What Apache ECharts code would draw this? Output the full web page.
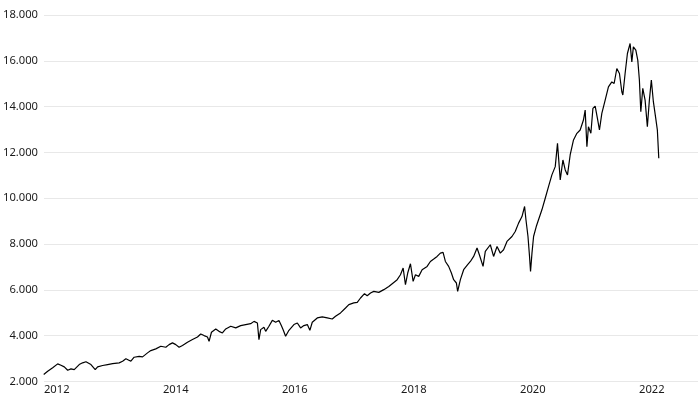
<!DOCTYPE html>
<html>
<head>
<meta charset="utf-8">
<script src="https://cdn.jsdelivr.net/npm/echarts@6/dist/echarts.min.js"></script>
<style>html,body{margin:0;padding:0;background:#fff}#c{width:700px;height:400px}</style>
</head>
<body>
<div id="c"></div>
<script>
// decimal years (as placed on the chart's axis)
const years = [
2011.781,2011.848,2011.932,2012.016,2012.071,2012.127,2012.184,2012.239,2012.294,2012.378,
2012.435,2012.491,2012.575,2012.647,2012.687,2012.771,2012.855,2012.939,2013.049,2013.107,
2013.162,2013.246,2013.301,2013.385,2013.442,2013.526,
2013.581,2013.665,2013.749,2013.833,2013.888,2013.945,2014.001,2014.056,2014.113,2014.197,
2014.281,2014.365,2014.420,2014.476,2014.533,2014.560,2014.600,2014.672,2014.727,2014.784,
2014.840,2014.924,2015.008,2015.091,2015.175,2015.259,2015.315,2015.372,2015.398,
2015.427,2015.482,2015.511,2015.566,2015.623,2015.679,2015.734,2015.774,2015.808,2015.846,
2015.902,2015.986,2016.043,2016.098,2016.153,2016.211,2016.254,2016.294,2016.378,2016.462,
2016.546,2016.630,2016.685,2016.769,2016.853,2016.909,2016.992,2017.050,2017.105,2017.172,2017.217,
2017.273,2017.328,2017.412,2017.496,2017.580,2017.664,2017.721,2017.776,2017.821,2017.860,
2017.898,2017.944,2017.989,2018.028,2018.083,2018.140,2018.224,2018.279,2018.335,2018.392,
2018.447,2018.492,2018.531,2018.586,2018.632,2018.670,2018.716,2018.737,2018.783,2018.838,
2018.905,2018.951,2019.006,2019.063,2019.102,
2019.118,2019.164,2019.202,2019.286,2019.341,2019.399,2019.454,2019.509,2019.566,2019.650,
2019.705,2019.761,2019.818,2019.862,2019.885,2019.919,2019.945,2019.962,2019.986,2020.013,
2020.058,2020.096,2020.153,2020.209,2020.264,2020.321,2020.377,2020.415,2020.461,2020.506,
2020.545,2020.583,
2020.628,2020.684,2020.741,2020.796,2020.851,2020.880,2020.909,2020.935,2020.976,2021.010,
2021.048,2021.086,2021.120,2021.160,2021.216,2021.271,2021.328,2021.367,2021.412,2021.456,
2021.496,2021.513,2021.551,2021.590,2021.635,2021.664,2021.690,2021.731,2021.764,2021.791,
2021.815,2021.848,2021.887,2021.925,2021.959,2021.992,2022.026,2022.066,2022.093,2022.117
];
const values = [
2305,2450,2600,2770,2710,2640,2490,2550,2520,2740,
2815,2860,2740,2520,2640,2700,2740,2780,2815,2885,
2990,2885,3060,3100,3075,3250,
3350,3425,3540,3495,3610,3685,3610,3495,3570,3715,
3830,3945,4075,4005,3945,3755,4150,4295,4190,4120,
4295,4410,4340,4440,4485,4525,4625,4555,3830,
4265,4365,4190,4410,4670,4585,4660,4440,4235,3975,
4235,4485,4555,4340,4440,4485,4235,4585,4775,4820,
4775,4730,4845,4995,5210,5355,5430,5455,5645,5835,5745,
5865,5935,5890,6010,6150,6325,6445,6660,6955,6225,
6735,7140,6370,6660,6590,6880,7025,7240,7345,7460,
7605,7635,7240,7025,6735,6445,6300,5935,6445,6880,
7100,7240,7460,7825,7535,
7460,7025,7680,7970,7460,7895,7605,7750,8115,8330,
8550,8915,9200,9640,9060,8330,7460,6805,7605,8330,
8765,9060,9495,10000,10510,11020,11380,12395,10800,11670,
11235,11020,
11890,12545,12835,12980,13415,13850,12250,13120,12835,13920,
14025,13490,12980,13705,14285,14865,15080,15010,15665,15445,
14650,14505,15445,16320,16755,15955,16610,16465,16030,15160,
13775,14795,14285,13120,14285,15160,14215,13490,12980,11745
];
const xTickLabels = [2012, 2014, 2016, 2018, 2020, 2022];
const yTicks = [2000, 4000, 6000, 8000, 10000, 12000, 14000, 16000, 18000];

function fmtThousands(v) {
  return String(Math.round(v)).replace(/\B(?=(\d{3})+(?!\d))/g, '.');
}

const chart = echarts.init(document.getElementById('c'), null, {renderer: 'canvas'});
chart.setOption({
  animation: false,
  backgroundColor: '#ffffff',
  grid: {left: 43, right: 2, top: 15, bottom: 18.5, containLabel: false},
  xAxis: {
    type: 'value',
    min: 2011.786,
    max: 2022.776,
    axisLine: {show: false},
    axisTick: {show: false},
    splitLine: {show: false},
    axisLabel: {
      customValues: xTickLabels,
      formatter: v => String(Math.round(v)),
      color: '#1a1a1a',
      fontFamily: 'Noto Sans',
      fontSize: 11.2,
      margin: 3
    }
  },
  yAxis: {
    type: 'value',
    min: yTicks[0],
    max: yTicks[yTicks.length - 1],
    interval: 2000,
    axisLine: {show: false},
    axisTick: {show: false},
    splitLine: {lineStyle: {color: '#e8e8e8', width: 1}},
    axisLabel: {
      formatter: v => fmtThousands(v),
      color: '#1a1a1a',
      fontFamily: 'Noto Sans',
      fontSize: 11.2,
      margin: 6
    }
  },
  series: [{
    type: 'line',
    data: years.map((y, i) => [y, values[i]]),
    showSymbol: false,
    lineStyle: {color: '#000', width: 1.2},
    itemStyle: {color: '#000'}
  }]
});
</script>
</body>
</html>
